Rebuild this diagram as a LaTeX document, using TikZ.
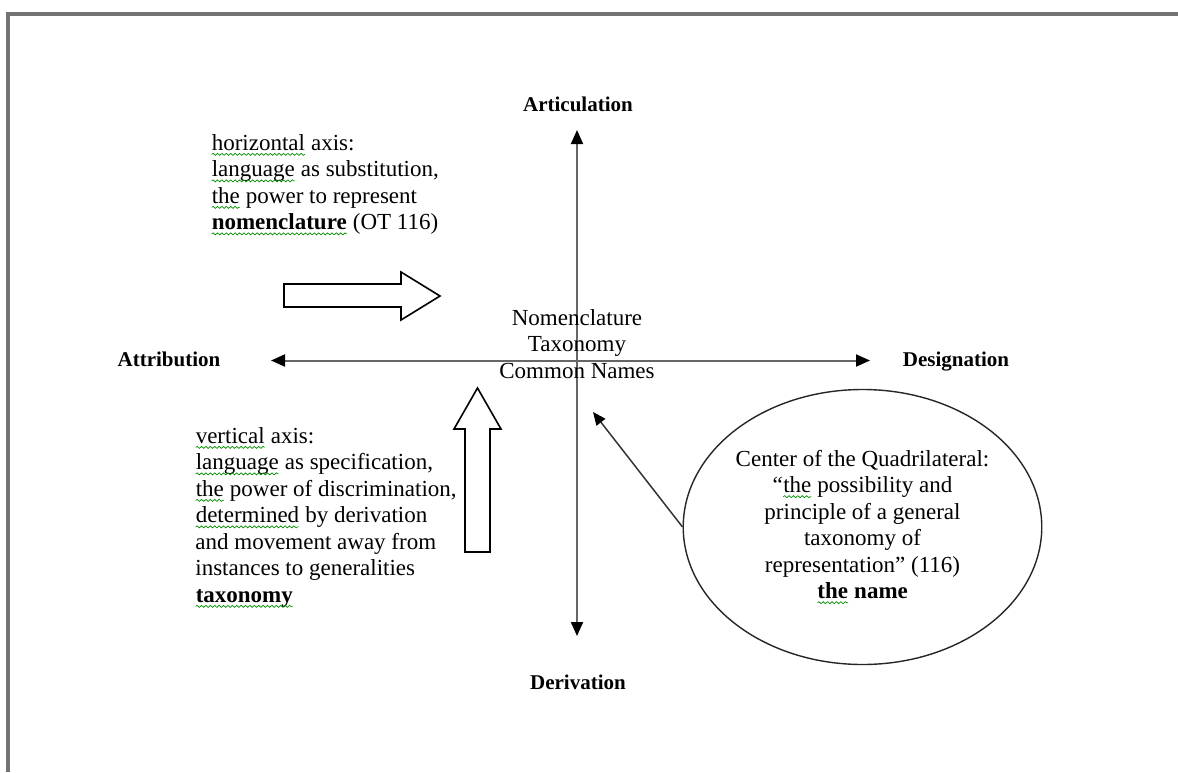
\documentclass[tikz,border=0pt]{standalone}
\usepackage{fontspec}
\setmainfont{Liberation Serif}
\usetikzlibrary{arrows.meta,decorations.pathmorphing,shapes.geometric}

% word with a wavy spell-check underline
\newcommand\spell[1]{\tikz[baseline=(sw.base)]{%
  \node[shape=rectangle,draw=none,fill=none,inner sep=0pt,outer sep=0pt,
        minimum width=0pt,minimum height=0pt,anchor=base] (sw) {#1};%
  \draw[spellline] ([yshift=-2pt]sw.base west) -- ([yshift=-2pt]sw.base east);}}

\tikzset{
  spellline/.style={draw=green!55!black,line width=0.35pt,decorate,
    decoration={snake,amplitude=0.5pt,segment length=2.2pt}},
  frameline/.style={draw=black!55,line width=1.6pt},
  axisline/.style={draw=black!60,line width=1pt,
    {Triangle[length=7pt,width=6pt,color=black]}-{Triangle[length=7pt,width=6pt,color=black]}},
  pointer/.style={draw=black!80,line width=0.75pt,
    -{Triangle[length=6.5pt,width=5.5pt,color=black]}},
  blockarrow/.style={draw=black,line width=0.8pt,fill=white,line join=miter},
  bodytext/.style={inner sep=0pt,font=\fontsize{11.5}{13.25}\selectfont},
  axislabel/.style={inner sep=0pt,anchor=base,font=\fontsize{10.5}{12}\selectfont\bfseries},
}

\begin{document}
\begin{tikzpicture}[x=0.5pt,y=-0.5pt]
\useasboundingbox (0,0) rectangle (1178,772);

% page edge
\draw[frameline] (8,772) -- (8,14) -- (1178,14);

% axis end labels
\node[axislabel] (art) at (578,111) {Articulation};
\node[axislabel] (der) at (578,689) {Derivation};
\node[axislabel] (att) at (169,366) {Attribution};
\node[axislabel] (des) at (956,366) {Designation};

% axes
\coordinate (vtop) at (577,130);
\coordinate (vbot) at (577,636);
\coordinate (hleft) at (271,360.5);
\coordinate (hright) at (870,360.5);
\draw[axisline] (vtop) -- (vbot);
\draw[axisline] (hleft) -- (hright);

% centre text
\node[bodytext,align=center] (centre) at (577,344)
  {Nomenclature\\Taxonomy\\Common Names};

% horizontal axis note
\node[bodytext,align=left,anchor=north west] (hnote) at (211,134)
  {\spell{horizontal} axis:\\
   \spell{language} as substitution,\\
   \spell{the} power to represent\\
   \textbf{\spell{nomenclature}} (OT 116)};

% vertical axis note
\node[bodytext,align=left,anchor=north west] (vnote) at (195,427)
  {\spell{vertical} axis:\\
   \spell{language} as specification,\\
   \spell{the} power of discrimination,\\
   \spell{determined} by derivation\\
   and movement away from\\
   instances to generalities\\
   \textbf{\spell{taxonomy}}};

% block arrows
\draw[blockarrow] (284,284) -- (401,284) -- (401,272) -- (440,296)
  -- (401,320) -- (401,307) -- (284,307) -- cycle;
\draw[blockarrow] (465,552) -- (465,429) -- (454,429) -- (477.5,388)
  -- (501,429) -- (490,429) -- (490,552) -- cycle;

% centre of the quadrilateral
\node[bodytext,align=center,shape=ellipse,draw=black!85,line width=0.7pt,
      minimum width=177.5pt,minimum height=137.5pt] (ell) at (862.5,527)
  {Center of the Quadrilateral:\\
   “\spell{the} possibility and\\
   principle of a general\\
   taxonomy of\\
   representation” (116)\\
   \textbf{\spell{the} name}};

\coordinate (ptip) at (593,412);
\draw[pointer] (ell.west) -- (ptip);
\end{tikzpicture}
\end{document}
